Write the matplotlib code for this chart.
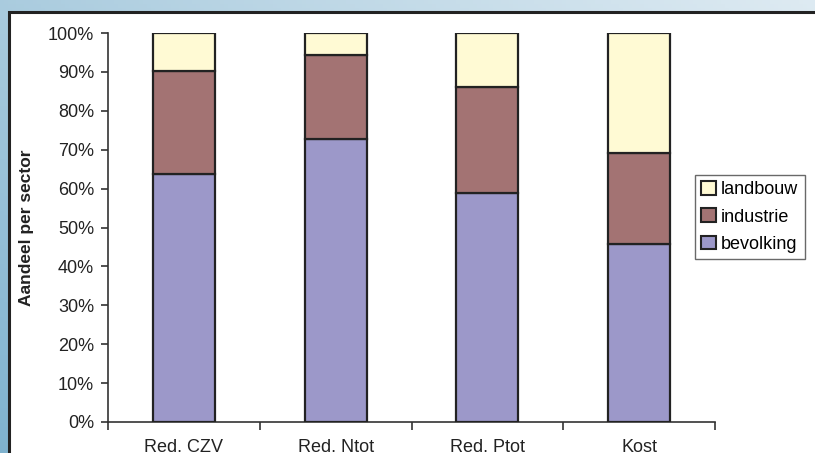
import numpy as np
import matplotlib
matplotlib.use("Agg")
import matplotlib.pyplot as plt
from matplotlib.patches import Rectangle, Patch

plt.rcParams['font.family'] = ['Liberation Sans', 'DejaVu Sans']

categories = ["Red. CZV", "Red. Ntot", "Red. Ptot", "Kost"]
bevolking = [63.7, 72.7, 58.9, 45.7]
industrie = [26.6, 21.6, 27.2, 23.5]
landbouw = [9.7, 5.7, 13.9, 30.8]
yticks = [0, 10, 20, 30, 40, 50, 60, 70, 80, 90, 100]

col_bev = "#9c98c9"
col_ind = "#a37373"
col_lan = "#fffad4"
edge = "#222222"

W, H = 815, 453
fig = plt.figure(figsize=(W / 100, H / 100), dpi=100)

# soft blue backdrop behind the white panel
bg = fig.add_axes([0, 0, 1, 1], zorder=-10)
gx = np.linspace(0, 1, 200)
gy = np.linspace(0, 1, 120)
X, Y = np.meshgrid(gx, gy)
t = np.clip(0.55 * (1 - X) + 0.45 * Y, 0, 1)
c0 = np.array([0.87, 0.92, 0.95])
c1 = np.array([0.50, 0.70, 0.81])
img = c0[None, None, :] * (1 - t[..., None]) + c1[None, None, :] * t[..., None]
bg.imshow(img, aspect="auto", extent=[0, 1, 0, 1], origin="upper")
bg.set_xlim(0, 1)
bg.set_ylim(0, 1)
bg.axis("off")

# white panel with dark frame
panel = Rectangle((9 / W, -0.1), 1.2, 1.1 - 12 / H, transform=fig.transFigure,
                  facecolor="white", edgecolor=edge, linewidth=2.2, zorder=-5)
fig.patches.append(panel)

ax = fig.add_axes([108 / W, 1 - 422 / H, (715 - 108) / W, (422 - 33) / H])
ax.set_facecolor("none")

x = np.arange(len(categories))
bw = 0.41
bot2 = np.array(bevolking) + np.array(industrie)
ax.bar(x, bevolking, bw, color=col_bev, edgecolor=edge, linewidth=1.6, zorder=3)
ax.bar(x, industrie, bw, bottom=bevolking, color=col_ind, edgecolor=edge, linewidth=1.6, zorder=3)
ax.bar(x, landbouw, bw, bottom=bot2, color=col_lan, edgecolor=edge, linewidth=1.6, zorder=3)

ax.set_xlim(-0.5, len(categories) - 0.5)
ax.set_ylim(0, 100)
ax.set_yticks(yticks)
ax.set_yticklabels([f"{v}%" for v in yticks])
ax.set_xticks(np.arange(len(categories) + 1) - 0.5)
ax.set_xticklabels([])
ax.set_xticks(x, minor=True)
ax.set_xticklabels(categories, minor=True)
ax.tick_params(axis="x", which="minor", length=0, pad=12, labelsize=13, colors="#222222")
ax.tick_params(axis="x", which="major", length=6, width=1.2, direction="out", color="#333333")
ax.tick_params(axis="y", length=5, width=1.2, direction="out", color="#333333",
               labelsize=13, labelcolor="#222222", pad=5)

for s in ("top", "right"):
    ax.spines[s].set_visible(False)
for s in ("left", "bottom"):
    ax.spines[s].set_color("#333333")
    ax.spines[s].set_linewidth(1.2)

fig.text(27 / W, 1 - 228 / H, "Aandeel per sector", rotation=90, ha="center", va="center",
         fontsize=12.5, fontweight="bold", color="#222222")

handles = [Patch(facecolor=col_lan, edgecolor=edge, linewidth=1.5, label="landbouw"),
           Patch(facecolor=col_ind, edgecolor=edge, linewidth=1.5, label="industrie"),
           Patch(facecolor=col_bev, edgecolor=edge, linewidth=1.5, label="bevolking")]
leg = fig.legend(handles=handles, loc="upper left", bbox_to_anchor=(695 / W, 1 - 175 / H),
                 fontsize=13, frameon=True, fancybox=False, borderpad=0.35,
                 handlelength=0.8, handleheight=0.8, handletextpad=0.3,
                 labelspacing=0.55, borderaxespad=0)
leg.get_frame().set_edgecolor("#444444")
leg.get_frame().set_linewidth(1.0)

fig.savefig("out.png", dpi=100)
